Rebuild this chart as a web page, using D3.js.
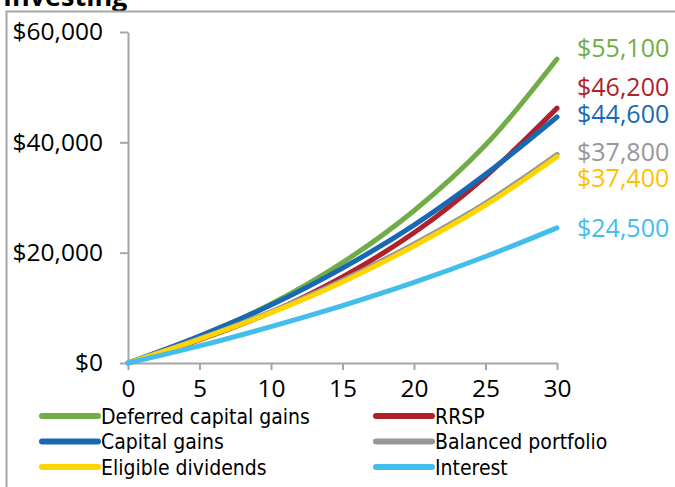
<!DOCTYPE html>
<html>
<head>
<meta charset="utf-8">
<script src="https://cdn.jsdelivr.net/npm/d3@7"></script>
<style>
  html, body { margin: 0; padding: 0; background: #fff; }
  svg { display: block; }
</style>
</head>
<body>
<div id="chart"></div>
<script>
// years shown on the x axis
const years = [0, 5, 10, 15, 20, 25, 30];

// after-tax value of the investment
const deferredGains = [0, 4800, 10700, 18200, 27600, 39500, 55100];
const rrsp = [0, 4200, 9200, 15600, 23600, 33800, 46200];
const capitalGains = [0, 4900, 10500, 17200, 25000, 34200, 44600];
const balanced = [0, 4400, 9300, 15000, 21600, 29000, 37800];
const eligibleDividends = [0, 4300, 9100, 14700, 21200, 28600, 37400];
const interest = [0, 3100, 6600, 10400, 14600, 19300, 24500];

const seriesNames = ["Deferred capital gains", "RRSP", "Capital gains",
  "Balanced portfolio", "Eligible dividends", "Interest"];
const endLabels = ["$55,100", "$46,200", "$44,600", "$37,800", "$37,400", "$24,500"];

const yTicks = [0, 20000, 40000, 60000];
const xTicks = [0, 5, 10, 15, 20, 25, 30];

const lineColors = ["#70ad47", "#b0212a", "#1869b4", "#979797", "#ffd500", "#42bdec"];
const labelColors = ["#70ad47", "#b0212a", "#1869b4", "#979797", "#ffbf00", "#42bdec"];
// vertical nudge of the end labels so they don't collide
const labelNudge = [-11, -21, -3, -2, 21, 0];

const width = 675, height = 487;
const numFont = "'Open Sans', sans-serif";

const series = [deferredGains, rrsp, capitalGains, balanced, eligibleDividends, interest]
  .map((vals, i) => ({
    name: seriesNames[i],
    label: endLabels[i],
    color: lineColors[i],
    labelColor: labelColors[i],
    nudge: labelNudge[i],
    values: vals.map((v, j) => ({ year: years[j], value: v }))
  }));

const svg = d3.select("#chart")
  .append("svg")
  .attr("width", width)
  .attr("height", height);

// title, mostly cut off at the top
svg.append("text")
  .attr("x", 3)
  .attr("y", 6)
  .attr("font-family", numFont)
  .attr("font-weight", "bold")
  .attr("font-size", 27)
  .text("Investing");

// frame
svg.append("path")
  .attr("d", "M6.5," + height + "V11.5H" + width)
  .attr("fill", "none")
  .attr("stroke", "#a6a6a6")
  .attr("stroke-width", 2);

const x = d3.scaleLinear().domain([0, 30]).range([128, 557]);
const y = d3.scaleLinear().domain([0, 60000]).range([363, 32]);

const xAxis = svg.append("g")
  .attr("transform", "translate(0," + y(0) + ")")
  .call(d3.axisBottom(x).tickValues(xTicks).tickSize(7).tickPadding(10).tickSizeOuter(0));

const yAxis = svg.append("g")
  .attr("transform", "translate(" + x(0) + ",0)")
  .call(d3.axisLeft(y).tickValues(yTicks).tickSize(8).tickPadding(17)
    .tickSizeOuter(0).tickFormat(d3.format("$,")));

[xAxis, yAxis].forEach(ax => {
  ax.select(".domain").attr("stroke", "#a6a6a6").attr("stroke-width", 2);
  ax.selectAll(".tick line").attr("stroke", "#a6a6a6").attr("stroke-width", 2);
  ax.selectAll(".tick text")
    .attr("fill", "#000")
    .attr("font-family", numFont)
    .attr("font-size", 24.5);
});

const line = d3.line()
  .x(d => x(d.year))
  .y(d => y(d.value))
  .curve(d3.curveCatmullRom);

svg.append("g")
  .selectAll("path")
  .data(series)
  .join("path")
  .attr("d", d => line(d.values))
  .attr("fill", "none")
  .attr("stroke", d => d.color)
  .attr("stroke-width", 5)
  .attr("stroke-linecap", "round");

svg.append("g")
  .selectAll("text")
  .data(series)
  .join("text")
  .attr("x", 577)
  .attr("y", d => y(d.values[d.values.length - 1].value) + d.nudge)
  .attr("dy", "0.36em")
  .attr("fill", d => d.labelColor)
  .attr("font-family", numFont)
  .attr("font-size", 25)
  .text(d => d.label);

// legend: two columns, three rows
const legend = svg.append("g")
  .selectAll("g")
  .data(series)
  .join("g")
  .attr("transform", (d, i) => "translate(" + (i % 2 === 0 ? 42 : 376) + "," + (416 + Math.floor(i / 2) * 25.5) + ")");

legend.append("line")
  .attr("x1", 0).attr("x2", 56)
  .attr("stroke", d => d.color)
  .attr("stroke-width", 6)
  .attr("stroke-linecap", "round");

legend.append("text")
  .attr("x", 59)
  .attr("dy", "0.36em")
  .attr("font-family", "'DejaVu Sans Condensed', sans-serif")
  .attr("font-size", 21)
  .text(d => d.name);
</script>
</body>
</html>
